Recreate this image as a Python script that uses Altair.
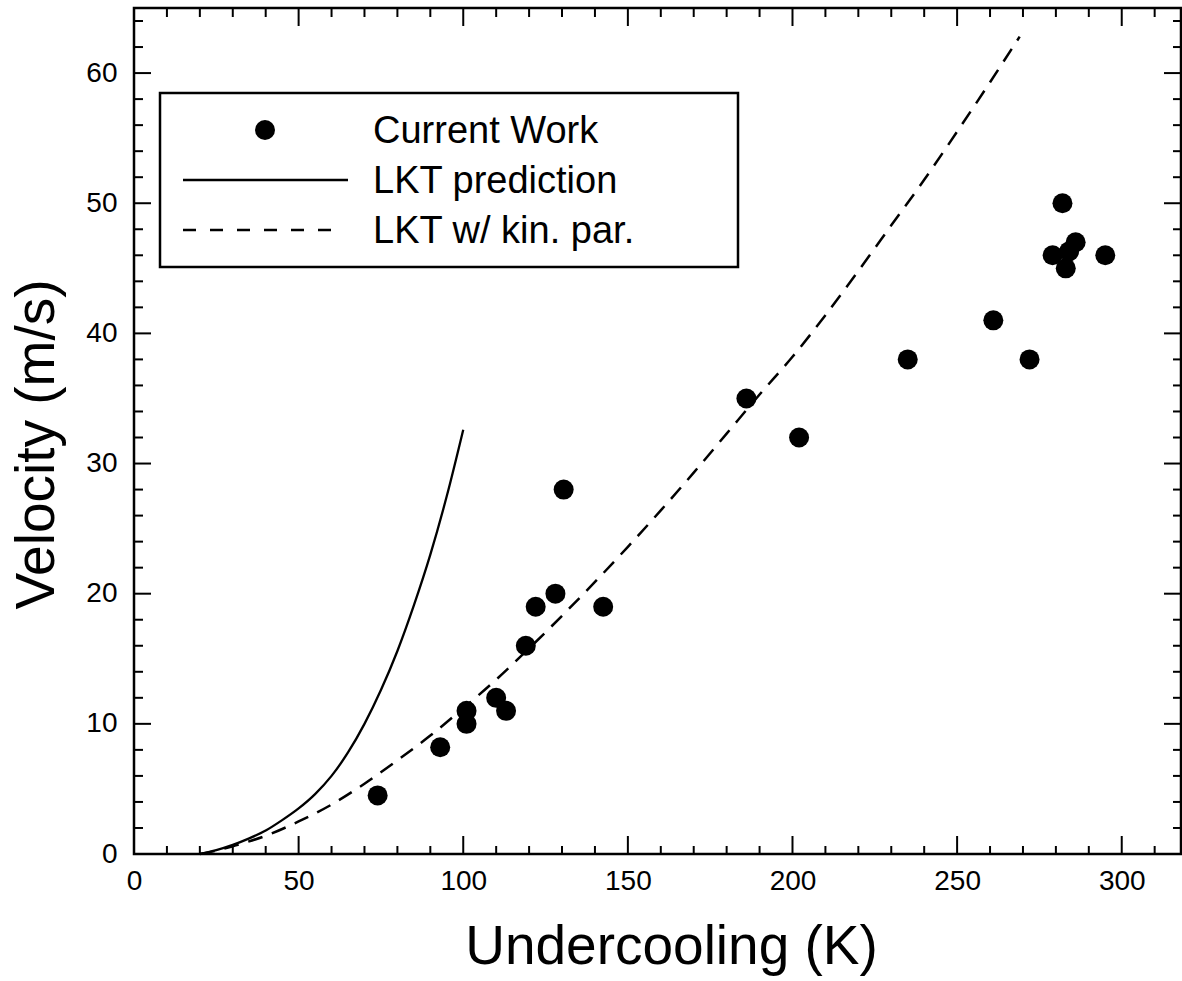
import altair as alt
import pandas as pd

# ---- data ----
work_x = [74, 93, 101, 101, 110, 113, 119, 122, 128, 130.5, 142.5, 186, 202, 235, 261, 272, 279, 282, 283, 284, 286, 295]
work_y = [4.5, 8.2, 11, 10, 12, 11, 16, 19, 20, 28, 19, 35, 32, 38, 41, 38, 46, 50, 45, 46.3, 47, 46]

lkt_x = [20, 25, 30, 35, 40, 45, 50, 55, 60, 65, 70, 75, 80, 85, 90, 95, 100]
lkt_y = [0, 0.3, 0.7, 1.2, 1.8, 2.6, 3.5, 4.6, 6.0, 7.8, 10.0, 12.6, 15.6, 19.1, 23.0, 27.5, 32.6]

kin_x = [20, 25, 30, 40, 50, 60, 70, 80, 90, 100, 110, 120, 130, 140, 150, 160, 170, 180,
         190, 200, 210, 220, 230, 240, 250, 260, 269]
kin_y = [0, 0.25, 0.6, 1.4, 2.5, 3.8, 5.4, 7.2, 9.1, 11.2, 13.4, 15.8, 18.3, 20.9, 23.6, 26.4,
         29.3, 32.3, 35.3, 38.2, 41.4, 44.8, 48.3, 51.8, 55.5, 59.3, 62.8]

x_major = [0, 50, 100, 150, 200, 250, 300]
x_minor = [v for v in range(10, 320, 10) if v % 50 != 0]
y_major = [0, 10, 20, 30, 40, 50, 60]
y_minor = [v for v in range(2, 66, 2) if v % 10 != 0]

legend_labels = ["Current Work", "LKT prediction", "LKT w/ kin. par."]

FONT = "Liberation Sans"
W, H = 1047, 846

xs = alt.Scale(domain=[0, 318], nice=False, zero=False)
ys = alt.Scale(domain=[0, 65], nice=False, zero=False)

x_axis = alt.Axis(values=x_major, ticks=False, domain=False, grid=False,
                  labelFont=FONT, labelFontSize=28, labelColor="black", labelPadding=13,
                  labelFlush=False, labelOverlap=False,
                  title="Undercooling (K)", titleFont=FONT, titleFontSize=55,
                  titleFontWeight="normal", titleColor="black",
                  titleX=537, titleY=109, titleBaseline="alphabetic", titleAlign="center")
y_axis = alt.Axis(values=y_major, ticks=False, domain=False, grid=False,
                  labelFont=FONT, labelFontSize=28, labelColor="black", labelPadding=17,
                  labelFlush=False, labelOverlap=False,
                  title="Velocity (m/s)", titleFont=FONT, titleFontSize=55,
                  titleFontWeight="normal", titleColor="black",
                  titleX=-98, titleY=436, titleBaseline="middle", titleAlign="center", titleAngle=-90)

X = lambda f: alt.X(f, type="quantitative", scale=xs, axis=x_axis)
Y = lambda f: alt.Y(f, type="quantitative", scale=ys, axis=y_axis)

df_work = pd.DataFrame({"x": work_x, "y": work_y})
df_lkt = pd.DataFrame({"x": lkt_x, "y": lkt_y})
df_kin = pd.DataFrame({"x": kin_x, "y": kin_y})

kin_line = alt.Chart(df_kin).mark_line(color="black", strokeWidth=2.5, strokeDash=[15, 10],
                                       interpolate="monotone").encode(x=X("x"), y=Y("y"))
lkt_line = alt.Chart(df_lkt).mark_line(color="black", strokeWidth=2.3,
                                       interpolate="monotone").encode(x=X("x"), y=Y("y"))
points = alt.Chart(df_work).mark_circle(size=400, color="black", opacity=1).encode(
    x=X("x"), y=Y("y"))

# inward ticks on all four sides
dxM = pd.DataFrame({"v": x_major})
dxm = pd.DataFrame({"v": x_minor})
dyM = pd.DataFrame({"v": y_major})
dym = pd.DataFrame({"v": y_minor})
tk = dict(color="black", strokeWidth=2)
ticks = [
    alt.Chart(dxM).mark_rule(**tk).encode(x=X("v"), y=alt.value(0), y2=alt.value(18)),
    alt.Chart(dxm).mark_rule(**tk).encode(x=X("v"), y=alt.value(0), y2=alt.value(9)),
    alt.Chart(dxM).mark_rule(**tk).encode(x=X("v"), y=alt.value(H), y2=alt.value(H - 18)),
    alt.Chart(dxm).mark_rule(**tk).encode(x=X("v"), y=alt.value(H), y2=alt.value(H - 8)),
    alt.Chart(dyM).mark_rule(**tk).encode(y=Y("v"), x=alt.value(0), x2=alt.value(17)),
    alt.Chart(dym).mark_rule(**tk).encode(y=Y("v"), x=alt.value(0), x2=alt.value(9)),
    alt.Chart(dyM).mark_rule(**tk).encode(y=Y("v"), x=alt.value(W), x2=alt.value(W - 17)),
    alt.Chart(dym).mark_rule(**tk).encode(y=Y("v"), x=alt.value(W), x2=alt.value(W - 8)),
]

# legend box
one = pd.DataFrame({"k": [0]})
leg_box = alt.Chart(one).mark_rect(fill="white", stroke="black", strokeWidth=2.5).encode(
    x=alt.value(26), x2=alt.value(604), y=alt.value(85), y2=alt.value(259))
leg_pt = alt.Chart(one).mark_circle(size=400, color="black", opacity=1).encode(
    x=alt.value(131), y=alt.value(122))
leg_solid = alt.Chart(one).mark_rule(color="black", strokeWidth=2.3).encode(
    x=alt.value(49), x2=alt.value(214), y=alt.value(172))
leg_dash = alt.Chart(one).mark_rule(color="black", strokeWidth=2.5, strokeDash=[13, 14]).encode(
    x=alt.value(49), x2=alt.value(204), y=alt.value(222))
leg_texts = []
for i, lab in enumerate(legend_labels):
    leg_texts.append(
        alt.Chart(pd.DataFrame({"label": [lab]})).mark_text(
            font=FONT, fontSize=38, color="black", align="left", baseline="middle"
        ).encode(text="label:N", x=alt.value(239), y=alt.value(124 + 50 * i))
    )

chart = alt.layer(
    kin_line, lkt_line, points, *ticks, leg_box, leg_pt, leg_solid, leg_dash, *leg_texts
).properties(
    width=W, height=H,
    autosize=alt.AutoSizeParams(type="none"),
    padding={"left": 134, "top": 8, "right": 1, "bottom": 127},
    background="white",
).configure_view(stroke="black", strokeWidth=2.5)

chart.save("out.html", embed_options={"renderer": "svg", "actions": False})
